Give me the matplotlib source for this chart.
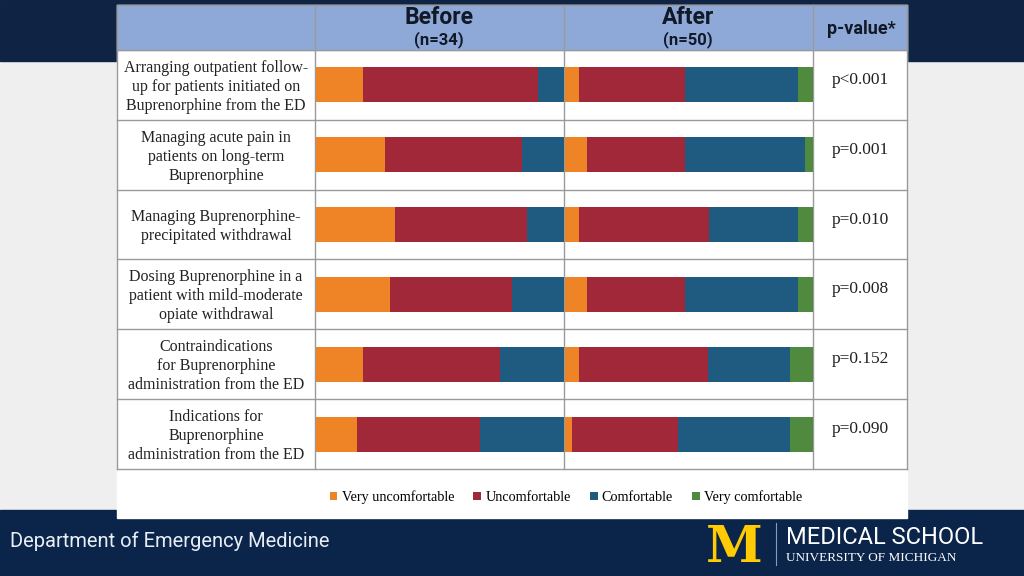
#!/usr/bin/env python3

import matplotlib
matplotlib.use('agg')
import matplotlib.pyplot as plot
from matplotlib.patches import Rectangle
from matplotlib.lines import Line2D
import numpy as np

# data (percent of respondents)
categories = [
    "Arranging outpatient follow-\nup for patients initiated on\nBuprenorphine from the ED",
    "Managing acute pain in\npatients on long-term\nBuprenorphine",
    "Managing Buprenorphine-\nprecipitated withdrawal",
    "Dosing Buprenorphine in a\npatient with mild-moderate\nopiate withdrawal",
    "Contraindications\nfor Buprenorphine\nadministration from the ED",
    "Indications for\nBuprenorphine\nadministration from the ED",
]
levels = ["Very uncomfortable", "Uncomfortable", "Comfortable", "Very comfortable"]
level_colors = ["#ee8426", "#a12838", "#1f5a80", "#4f8a3f"]

before_very_uncomf = [19.0, 27.8, 32.0, 29.8, 19.1, 16.9]
before_uncomf = [70.5, 55.3, 53.3, 49.3, 55.1, 49.3]
before_comf = [10.5, 16.9, 14.7, 20.9, 25.8, 33.8]
before_very_comf = [0, 0, 0, 0, 0, 0]

after_very_uncomf = [5.9, 8.9, 5.9, 8.9, 5.7, 3.2]
after_uncomf = [42.4, 39.4, 52.2, 39.4, 52.2, 42.4]
after_comf = [45.6, 48.5, 35.9, 45.6, 32.9, 45.3]
after_very_comf = [6.1, 3.2, 6.0, 6.1, 9.2, 9.1]

p_values = ["p<0.001", "p=0.001", "p=0.010", "p=0.008", "p=0.152", "p=0.090"]
n_before = 34
n_after = 50

W, H = 1024, 576
navy = "#0f2444"
footer_navy = "#0b2449"
header_blue = "#8ea9d7"
line_gray = "#9a9a9a"


def fx(px):
    return px / W


def fy(py):
    return 1 - py / H


def box(x0, y0, x1, y1):
    # left, bottom, width, height in figure fraction from pixel corners
    return [fx(x0), fy(y1), (x1 - x0) / W, (y1 - y0) / H]


figure = plot.figure(figsize=(10.24, 5.76), dpi=100, facecolor="#efefef")

# slide background pieces
figure.patches.append(Rectangle((0, fy(61)), 1, 61 / H, transform=figure.transFigure,
                                color=navy, zorder=0))
figure.patches.append(Rectangle((0, 0), 1, 66 / H, transform=figure.transFigure,
                                color=footer_navy, zorder=0))
figure.patches.append(Rectangle((fx(117), fy(518)), (907 - 117) / W, (518 - 5) / H,
                                transform=figure.transFigure, color="white", zorder=1))
figure.patches.append(Rectangle((fx(117), fy(50)), (907 - 117) / W, 45 / H,
                                transform=figure.transFigure, color=header_blue, zorder=1))

# table grid
table_top, header_bottom, table_bottom = 5, 50, 469
row_h = (table_bottom - header_bottom) / len(categories)
col_x = [117, 315, 564, 813, 907]
for x in col_x:
    figure.lines.append(Line2D([fx(x), fx(x)], [fy(table_top), fy(table_bottom)],
                               transform=figure.transFigure, color=line_gray, lw=1, zorder=2))
for i in range(len(categories) + 1):
    y = header_bottom + i * row_h
    figure.lines.append(Line2D([fx(117), fx(907)], [fy(y), fy(y)],
                               transform=figure.transFigure, color=line_gray, lw=1, zorder=2))
figure.lines.append(Line2D([fx(117), fx(907)], [fy(table_top), fy(table_top)],
                           transform=figure.transFigure, color=line_gray, lw=1, zorder=2))

# header text
head_font = "Roboto"
for cx, title, n in [(439, "Before", n_before), (688, "After", n_after)]:
    figure.text(fx(cx), fy(18), title, ha="center", va="center", fontsize=16.5,
                fontweight="bold", family=head_font, color="#111827", zorder=3)
    figure.text(fx(cx), fy(40), "(n={})".format(n), ha="center", va="center", fontsize=12,
                fontweight="bold", family=head_font, color="#111827", zorder=3)
figure.text(fx(861), fy(29), "p-value*", ha="center", va="center", fontsize=13,
            fontweight="bold", family=head_font, color="#111827", zorder=3)

# row labels and p-values
serif = "Liberation Serif"
for i, (label, p) in enumerate(zip(categories, p_values)):
    cy = header_bottom + (i + 0.5) * row_h
    figure.text(fx(216), fy(cy + 2), label, ha="center", va="center", fontsize=11.5,
                family=serif, color="#222222", linespacing=1.25, zorder=3)
    figure.text(fx(860), fy(cy - 5), p, ha="center", va="center", fontsize=12.5,
                family=serif, color="#222222", zorder=3)


def stacked(axis, parts):
    index = np.arange(len(categories))
    left = np.zeros(len(categories))
    handles = []
    for values, color, name in zip(parts, level_colors, levels):
        rects = axis.barh(index, values, height=0.5, left=left, color=color,
                          label=name, edgecolor="none")
        handles.append(rects)
        left = left + np.array(values)
    axis.set_xlim(0, 100)
    axis.set_ylim(len(categories) - 0.5, -0.5)
    axis.axis("off")
    return handles


axis_before = figure.add_axes(box(315.5, header_bottom, 564, table_bottom), zorder=3)
axis_before.patch.set_alpha(0)
handles = stacked(axis_before, [before_very_uncomf, before_uncomf, before_comf, before_very_comf])

axis_after = figure.add_axes(box(564.5, header_bottom, 813, table_bottom), zorder=3)
axis_after.patch.set_alpha(0)
stacked(axis_after, [after_very_uncomf, after_uncomf, after_comf, after_very_comf])

legend = figure.legend(handles, levels, loc="center", bbox_to_anchor=(fx(566), fy(497)),
                       ncol=4, frameon=False, handlelength=0.55, handleheight=0.55,
                       handletextpad=0.3, columnspacing=1.35,
                       prop={"family": serif, "size": 10.2})
legend.set_zorder(4)

# footer
figure.text(fx(10), fy(541), "Department of Emergency Medicine", ha="left", va="center",
            fontsize=14.5, family=head_font, color="#e9eef6", zorder=3)
figure.text(fx(734), fy(543), "M", ha="center", va="center_baseline", fontsize=37,
            fontweight="bold", family="DejaVu Serif", color="#ffcb05", zorder=3)
figure.lines.append(Line2D([fx(776), fx(776)], [fy(523), fy(565)],
                           transform=figure.transFigure, color="#8a9bb5", lw=0.8, zorder=3))
figure.text(fx(786), fy(537), "MEDICAL SCHOOL", ha="left", va="center", fontsize=17,
            family=head_font, color="white", zorder=3)
figure.text(fx(786), fy(558), "UNIVERSITY OF MICHIGAN", ha="left", va="center", fontsize=9.5,
            family=serif, color="white", zorder=3)

figure.savefig("out.png", dpi=100, facecolor=figure.get_facecolor())
